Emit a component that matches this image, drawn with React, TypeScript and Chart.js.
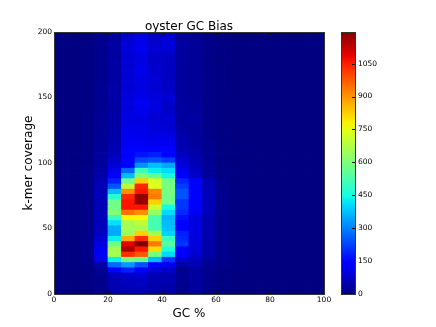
import React, { useEffect, useRef } from "react";
import { Chart, registerables } from "chart.js";

Chart.register(...registerables);

const TITLE = "oyster GC Bias";
const X_LABEL = "GC %";
const Y_LABEL = "k-mer coverage";
const FONT = "'DejaVu Sans', sans-serif";
const BIN_GC = 5;
const BIN_COV = 4;
const COLOR_MAX = 1194;
const colorbarTicks = [0, 150, 300, 450, 600, 750, 900, 1050];

const gc00 = [1,1,1,1,1,2,2,2,2,2,2,2,2,2,2,2,2,2,2,2,2,2,2,2,2,1,1,1,1,1,1,1,1,1,1,1,1,1,1,1,1,1,1,1,1,1,1,1,1,1];
const gc05 = [2,2,2,2,2,3,4,4,4,4,4,4,4,4,4,4,4,4,4,4,4,4,3,3,3,3,3,3,2,2,2,2,2,2,2,2,2,2,2,2,2,2,2,2,2,2,2,2,2,2];
const gc10 = [3,3,4,4,5,8,10,12,12,12,10,10,10,10,10,10,10,10,10,10,10,10,10,10,10,8,8,8,8,8,7,7,7,7,7,6,6,6,6,6,6,6,6,6,6,6,6,6,6,6];
const gc15 = [10,12,15,18,20,45,100,120,115,100,85,70,65,60,60,60,55,60,60,55,55,50,45,40,35,30,30,25,25,25,22,20,20,20,20,18,18,18,18,18,16,16,16,16,16,15,15,15,15,15];
const gc20 = [45,50,55,60,145,270,430,657,657,580,430,350,350,415,500,610,580,580,478,370,245,185,145,110,90,75,60,50,50,45,45,45,40,40,40,35,38,40,40,38,35,35,35,35,38,35,35,35,35,35];
const gc25 = [50,60,65,80,185,330,590,1030,1150,1085,866,640,657,657,770,943,1060,1060,1038,907,690,580,370,270,145,150,145,130,125,120,115,110,100,105,100,95,100,95,90,85,90,85,90,85,90,85,95,90,85,80];
const gc30 = [55,65,70,85,145,245,570,975,1060,1190,1030,824,657,690,770,907,1060,1170,1175,1060,1038,824,610,510,320,230,170,145,125,115,110,110,105,100,110,115,120,110,105,100,100,105,110,105,100,105,115,110,105,100];
const gc35 = [40,45,50,55,90,145,370,585,810,930,824,657,520,520,520,630,716,824,930,915,740,735,560,430,370,245,185,140,120,110,105,95,90,85,90,105,100,95,90,85,90,85,80,80,75,75,85,80,75,70];
const gc40 = [40,45,50,50,80,115,210,405,460,545,500,395,375,370,360,405,450,580,580,590,590,590,440,405,340,220,145,140,120,110,100,90,85,90,80,70,80,90,75,70,70,65,70,70,70,70,85,95,90,80];
const gc45 = [10,15,18,18,12,42,84,140,145,210,195,185,145,145,165,195,210,210,245,245,220,195,145,115,95,84,70,55,50,50,45,40,35,35,35,35,32,32,30,30,30,30,30,30,30,30,32,32,32,30];
const gc50 = [30,32,35,35,35,55,60,85,90,95,95,100,100,100,100,125,130,135,140,140,135,130,80,70,60,55,45,40,35,30,30,30,35,40,30,28,28,25,25,25,25,25,25,25,25,25,25,25,25,25];
const gc55 = [10,12,14,15,15,20,30,45,45,45,48,48,48,48,48,60,60,60,60,60,55,50,30,28,25,20,20,18,18,15,15,12,12,12,10,10,10,10,10,10,10,9,9,9,9,9,9,9,9,9];
const gc60 = [3,4,4,5,5,12,14,15,15,15,15,15,15,15,15,16,16,16,16,16,14,14,8,7,6,5,5,4,4,4,4,4,3,3,3,3,3,3,3,3,3,3,3,3,3,3,3,3,3,3];
const gc65 = [2,2,2,3,3,4,5,6,6,6,6,6,6,6,6,6,6,6,6,6,5,5,4,4,3,3,3,3,3,2,2,2,2,2,2,2,2,2,2,2,2,2,2,2,2,2,2,2,2,2];
const gc70 = [1,1,1,1,1,2,2,2,2,2,2,2,2,2,2,2,2,2,2,2,2,2,2,2,1,1,1,1,1,1,1,1,1,1,1,1,1,1,1,1,1,1,1,1,1,1,1,1,1,1];
const gc75 = [1,1,1,1,1,1,1,1,1,1,1,1,1,1,1,1,1,1,1,1,1,1,1,1,1,1,1,1,1,1,1,1,1,1,1,1,1,1,1,1,1,1,1,1,1,1,1,1,1,1];
const gc80 = [0,0,0,0,0,1,1,1,1,1,1,1,1,1,1,1,1,1,1,1,1,0,0,0,0,0,0,0,0,0,0,0,0,0,0,0,0,0,0,0,0,0,0,0,0,0,0,0,0,0];
const gc85 = [0,0,0,0,0,0,0,0,0,0,0,0,0,0,0,0,0,0,0,0,0,0,0,0,0,0,0,0,0,0,0,0,0,0,0,0,0,0,0,0,0,0,0,0,0,0,0,0,0,0];
const gc90 = [0,0,0,0,0,0,0,0,0,0,0,0,0,0,0,0,0,0,0,0,0,0,0,0,0,0,0,0,0,0,0,0,0,0,0,0,0,0,0,0,0,0,0,0,0,0,0,0,0,0];
const gc95 = [0,0,0,0,0,0,0,0,0,0,0,0,0,0,0,0,0,0,0,0,0,0,0,0,0,0,0,0,0,0,0,0,0,0,0,0,0,0,0,0,0,0,0,0,0,0,0,0,0,0];
const columns = [gc00,gc05,gc10,gc15,gc20,gc25,gc30,gc35,gc40,gc45,gc50,gc55,gc60,gc65,gc70,gc75,gc80,gc85,gc90,gc95];

const lerp = (xs: number[], ys: number[], t: number) => {
  if (t <= xs[0]) return ys[0];
  for (let i = 1; i < xs.length; i++) {
    if (t <= xs[i]) return ys[i - 1] + ((ys[i] - ys[i - 1]) * (t - xs[i - 1])) / (xs[i] - xs[i - 1]);
  }
  return ys[ys.length - 1];
};
const jet = (t: number) => {
  const r = lerp([0.35, 0.66, 0.89, 1], [0, 1, 1, 0.5], t);
  const g = lerp([0.125, 0.375, 0.64, 0.91], [0, 1, 1, 0], t);
  const b = lerp([0, 0.11, 0.34, 0.65], [0.5, 1, 1, 0], t);
  return `rgb(${Math.round(r * 255)},${Math.round(g * 255)},${Math.round(b * 255)})`;
};

const innerTicks = {
  id: "innerTicks",
  afterDatasetsDraw(chart: any) {
    const { ctx, chartArea: a, scales } = chart;
    ctx.save();
    ctx.strokeStyle = "#111";
    ctx.lineWidth = 1;
    const len = 3;
    const hLine = (x0: number, x1: number, y: number) => {
      ctx.beginPath(); ctx.moveTo(x0, y); ctx.lineTo(x1, y); ctx.stroke();
    };
    const vLine = (x: number, y0: number, y1: number) => {
      ctx.beginPath(); ctx.moveTo(x, y0); ctx.lineTo(x, y1); ctx.stroke();
    };
    const sx = scales.x;
    const sy = scales.y;
    const isMain = sx && sx.type === "linear";
    if (isMain) {
      for (const t of sx.ticks) {
        const p = Math.round(sx.getPixelForValue(t.value)) + 0.5;
        vLine(p, a.top, a.top + len);
        vLine(p, a.bottom, a.bottom - len);
      }
    }
    for (const t of sy.ticks) {
      const p = Math.round(sy.getPixelForValue(t.value)) + 0.5;
      if (isMain) hLine(a.left, a.left + len, p);
      hLine(a.right, a.right - len, p);
    }
    ctx.strokeStyle = "#333";
    ctx.strokeRect(a.left + 0.5, a.top + 0.5, a.right - a.left, a.bottom - a.top);
    ctx.restore();
  },
};

export default function App() {
  const mainRef = useRef<HTMLCanvasElement>(null);
  const barRef = useRef<HTMLCanvasElement>(null);

  useEffect(() => {
    const centers = columns.map((_, i) => i * BIN_GC + BIN_GC / 2);
    const datasets = columns[0].map((_, k) => ({
      data: centers.map((x) => ({ x, y: BIN_COV })),
      backgroundColor: columns.map((c) => jet(c[k] / COLOR_MAX)),
      borderWidth: 0,
      barPercentage: 1,
      categoryPercentage: 1,
      inflateAmount: 0.4,
    }));
    const main = new Chart(mainRef.current!, {
      type: "bar",
      data: { datasets },
      plugins: [innerTicks],
      options: {
        animation: false,
        responsive: false,
        layout: { padding: { left: 0, right: 112, top: 0, bottom: 0 } },
        plugins: {
          legend: { display: false },
          tooltip: { enabled: false },
          title: {
            display: true,
            fullSize: false,
            text: TITLE,
            color: "#000",
            font: { family: FONT, size: 12, weight: "normal", lineHeight: 1.2 },
            padding: { top: 19.5, bottom: -1.9 },
          },
        },
        scales: {
          x: {
            type: "linear",
            stacked: true,
            min: 0,
            max: 100,
            offset: false,
            grid: { display: false, drawTicks: false },
            border: { display: false },
            ticks: { stepSize: 20, color: "#000", font: { family: FONT, size: 7.5 }, padding: 2, maxRotation: 0 },
            title: { display: true, text: X_LABEL, color: "#000", font: { family: FONT, size: 12 }, padding: { top: 0, bottom: 6 } },
            afterFit: (s: any) => { s.height = 33; },
          },
          y: {
            stacked: true,
            min: 0,
            max: 200,
            grid: { display: false, drawTicks: false },
            border: { display: false },
            ticks: { stepSize: 50, color: "#000", font: { family: FONT, size: 7.5 }, padding: 2 },
            title: { display: true, text: Y_LABEL, color: "#000", font: { family: FONT, size: 12 }, padding: { top: 21.5, bottom: 0 } },
            afterFit: (s: any) => { s.width = 54; },
          },
        },
      } as any,
    } as any);

    const bar = new Chart(barRef.current!, {
      type: "bar",
      data: {
        labels: [""],
        datasets: [{
          data: [[0, COLOR_MAX]],
          barPercentage: 1,
          categoryPercentage: 1,
          borderWidth: 0,
          backgroundColor: (c: any) => {
            const a = c.chart.chartArea;
            if (!a) return "#000";
            const g = c.chart.ctx.createLinearGradient(0, a.bottom, 0, a.top);
            for (let i = 0; i <= 32; i++) g.addColorStop(i / 32, jet(i / 32));
            return g;
          },
        }],
      },
      plugins: [innerTicks],
      options: {
        animation: false,
        responsive: false,
        layout: { padding: { top: 32, bottom: 33, left: 0, right: 0 } },
        plugins: { legend: { display: false }, tooltip: { enabled: false } },
        scales: {
          x: { display: false },
          y: {
            position: "right",
            min: 0,
            max: COLOR_MAX,
            grid: { display: false, drawTicks: false },
            border: { display: false },
            afterBuildTicks: (s: any) => { s.ticks = colorbarTicks.map((value) => ({ value })); },
            ticks: {
              color: "#000",
              font: { family: FONT, size: 7.5 },
              padding: 3,
              autoSkip: false,
              callback: (v: any) => String(v),
            },
            afterFit: (s: any) => { s.width = 81; },
          },
        },
      } as any,
    } as any);

    return () => { main.destroy(); bar.destroy(); };
  }, []);

  return (
    <div style={{ position: "fixed", left: 0, top: 0, width: 436, height: 327, background: "#fff" }}>
      <canvas ref={mainRef} width={436} height={327} style={{ position: "absolute", left: 0, top: 0, width: 436, height: 327 }} />
      <canvas ref={barRef} width={95} height={327} style={{ position: "absolute", left: 341, top: 0, width: 95, height: 327 }} />
    </div>
  );
}
